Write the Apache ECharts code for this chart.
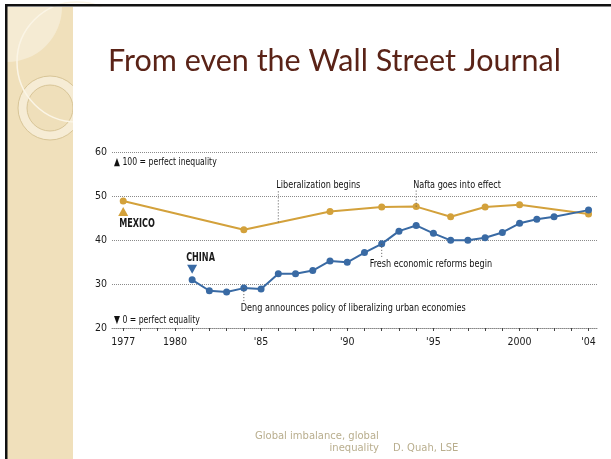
<!DOCTYPE html>
<html><head><meta charset="utf-8">
<script src="https://cdn.jsdelivr.net/npm/echarts@6/dist/echarts.min.js"></script>
<style>html,body{margin:0;padding:0;background:#fff}#c{width:611px;height:459px}</style>
</head><body><div id="c"></div>
<script>
// ---- data ----
const chinaYears  = [1981,1982,1983,1984,1985,1986,1987,1988,1989,1990,1991,1992,1993,1994,1995,1996,1997,1998,1999,2000,2001,2002,2004];
const chinaValues = [31.0,28.5,28.2,29.1,28.9,32.4,32.4,33.1,35.3,35.0,37.2,39.2,42.1,43.4,41.6,40.0,40.0,40.6,41.8,43.9,44.8,45.4,46.9];
const mexicoYears  = [1977,1984,1989,1992,1994,1996,1998,2000,2004];
const mexicoValues = [49.0,42.4,46.6,47.6,47.7,45.4,47.6,48.1,46.0];
const yTicks = [20,30,40,50,60];
const xTickYears = [1977,1978,1979,1980,1981,1982,1983,1984,1985,1986,1987,1988,1989,1990,1991,1992,1993,1994,1995,1996,1997,1998,1999,2000,2001,2002,2003,2004];
const xLabelYears = [1977,1980,1985,1990,1995,2000,2004];
const xLabelTexts = ['1977','1980',"'85","'90","'95",'2000',"'04"];
const titleText = 'From even the Wall Street Journal';
const footerLine1 = 'Global imbalance, global';
const footerLine2 = 'inequality';
const footerAuthor = 'D. Quah, LSE';
const topNote = '\u25B2 100 = perfect inequality';
const bottomNote = '\u25BC 0 = perfect equality';
// annotation texts with anchor year/value
const notes = [
  {text:'Liberalization begins', year:1986, lineFrom:44.1, lineTo:51.6, textAt:52.6, dx:-2},
  {text:'Nafta goes into effect', year:1994, lineFrom:47.7, lineTo:51.6, textAt:52.6, dx:-3},
  {text:'Fresh economic reforms begin', year:1992, lineFrom:39.2, lineTo:35.9, textAt:34.5, dx:-12},
  {text:'Deng announces policy of liberalizing urban economies', year:1984, lineFrom:29.1, lineTo:26.0, textAt:24.6, dx:-3}
];

const ORANGE = '#d3a13b', BLUE = '#396aa4';
const NARROW = '"Liberation Sans Narrow","DejaVu Sans Condensed",sans-serif';

const chart = echarts.init(document.getElementById('c'));
const pair = (xs, ys) => xs.map((x,i)=>[x, ys[i]]);

chart.setOption({
  animation:false,
  backgroundColor:'#fff',
  grid:{left:112,right:13,top:152.7,bottom:131,containLabel:false},
  xAxis:{
    type:'value', min:1976.35, max:2004.55,
    axisLine:{show:true,lineStyle:{color:'#888',type:'dotted',width:1}},
    axisTick:{show:true,customValues:xTickYears,length:3,lineStyle:{color:'#444',width:1}},
    axisLabel:{show:true,customValues:xLabelYears,margin:9,color:'#1a1a1a',fontFamily:NARROW,fontSize:10.5,
      formatter:v=>{const i=xLabelYears.indexOf(Math.round(v));return i>=0?xLabelTexts[i]:'';}},
    splitLine:{show:false}
  },
  yAxis:{
    type:'value', min:yTicks[0], max:yTicks[yTicks.length-1], interval:10,
    axisLine:{show:false}, axisTick:{show:false},
    axisLabel:{color:'#1a1a1a',fontFamily:NARROW,fontSize:10.5,margin:5},
    splitLine:{show:true,lineStyle:{color:'#8a8a8a',type:'dotted',width:1}}
  },
  series:[
    {name:'Mexico',type:'line',data:pair(mexicoYears,mexicoValues),symbol:'circle',symbolSize:7,
     lineStyle:{color:ORANGE,width:2},itemStyle:{color:ORANGE},z:3},
    {name:'China',type:'line',data:pair(chinaYears,chinaValues),symbol:'circle',symbolSize:7,
     lineStyle:{color:BLUE,width:2},itemStyle:{color:BLUE},z:4}
  ]
});

const P = (x,y)=>chart.convertToPixel({gridIndex:0},[x,y]);
const g = [];
// background decorations
g.push({type:'rect',z:-20,shape:{x:7,y:7,width:66,height:452},style:{fill:'#f0e0bb'}});
g.push({type:'sector',z:-19,shape:{cx:7,cy:7,r:55,startAngle:0,endAngle:Math.PI/2},style:{fill:'#f5ebd3'}});
g.push({type:'circle',z:-18,shape:{cx:50,cy:108,r:32},style:{fill:'#f6ecd5',stroke:'#d8c597',lineWidth:1}});
g.push({type:'circle',z:-17,shape:{cx:50,cy:108,r:23},style:{fill:'#efdfba',stroke:'#d8c597',lineWidth:1}});
g.push({type:'circle',z:-16,shape:{cx:77,cy:62,r:60},style:{fill:null,stroke:'#fbf5e6',lineWidth:1.5}});
g.push({type:'rect',z:-15,shape:{x:73,y:7,width:75,height:150},style:{fill:'#fff'}});
g.push({type:'rect',z:-14,shape:{x:5,y:4,width:2.5,height:455},style:{fill:'#111'}});
g.push({type:'rect',z:-14,shape:{x:5,y:4,width:606,height:2.5},style:{fill:'#111'}});
// title
g.push({type:'text',z:10,x:334.5,y:77,style:{text:titleText,fill:'#5a2317',font:'30.5px Lato, "Open Sans", sans-serif',align:'center',verticalAlign:'bottom'}});
// footer
const FF = '10px "DejaVu Sans", sans-serif';
g.push({type:'text',z:10,x:255,y:436,style:{text:footerLine1,fill:'#b9ae8e',font:FF,align:'left',verticalAlign:'middle'}});
g.push({type:'text',z:10,x:379,y:448,style:{text:footerLine2,fill:'#b9ae8e',font:FF,align:'right',verticalAlign:'middle'}});
g.push({type:'text',z:10,x:393,y:448,style:{text:footerAuthor,fill:'#b9ae8e',font:FF,align:'left',verticalAlign:'middle'}});
// notes inside plot
const tn = P(1977,57.9), bn = P(1977,21.8);
g.push({type:'text',z:10,x:114,y:tn[1],scaleX:0.78,style:{text:topNote,fill:'#111',font:'11px '+NARROW,align:'left',verticalAlign:'middle'}});
g.push({type:'text',z:10,x:114,y:bn[1],scaleX:0.78,style:{text:bottomNote,fill:'#111',font:'11px '+NARROW,align:'left',verticalAlign:'middle'}});
// annotations
notes.forEach(n=>{
  const a=P(n.year,n.lineFrom), b=P(n.year,n.lineTo), t=P(n.year,n.textAt);
  g.push({type:'line',z:10,shape:{x1:a[0],y1:a[1],x2:b[0],y2:b[1]},style:{stroke:'#555',lineWidth:1,lineDash:[1,2]}});
  g.push({type:'text',z:10,x:t[0]+n.dx,y:t[1],scaleX:0.82,style:{text:n.text,fill:'#111',font:'11px '+NARROW,align:'left',verticalAlign:'middle'}});
});
// series labels
const mx = P(mexicoYears[0], mexicoValues[0]);
const mTri = [mx[0], mx[1]+11];
g.push({type:'polygon',z:10,shape:{points:[[mTri[0],mTri[1]-5],[mTri[0]-5,mTri[1]+4],[mTri[0]+5,mTri[1]+4]]},style:{fill:ORANGE}});
g.push({type:'text',z:10,x:mx[0]-4,y:mx[1]+23,scaleX:0.72,style:{text:'MEXICO',fill:'#1a1a1a',font:'bold 12.5px '+NARROW,align:'left',verticalAlign:'middle'}});
const cx = P(chinaYears[0], chinaValues[0]);
const cTri = [cx[0], cx[1]-11];
g.push({type:'polygon',z:10,shape:{points:[[cTri[0]-5,cTri[1]-4],[cTri[0]+5,cTri[1]-4],[cTri[0],cTri[1]+5]]},style:{fill:BLUE}});
g.push({type:'text',z:10,x:cx[0]-6,y:cx[1]-22,scaleX:0.72,style:{text:'CHINA',fill:'#1a1a1a',font:'bold 12.5px '+NARROW,align:'left',verticalAlign:'middle'}});
chart.setOption({graphic:g});
</script></body></html>
